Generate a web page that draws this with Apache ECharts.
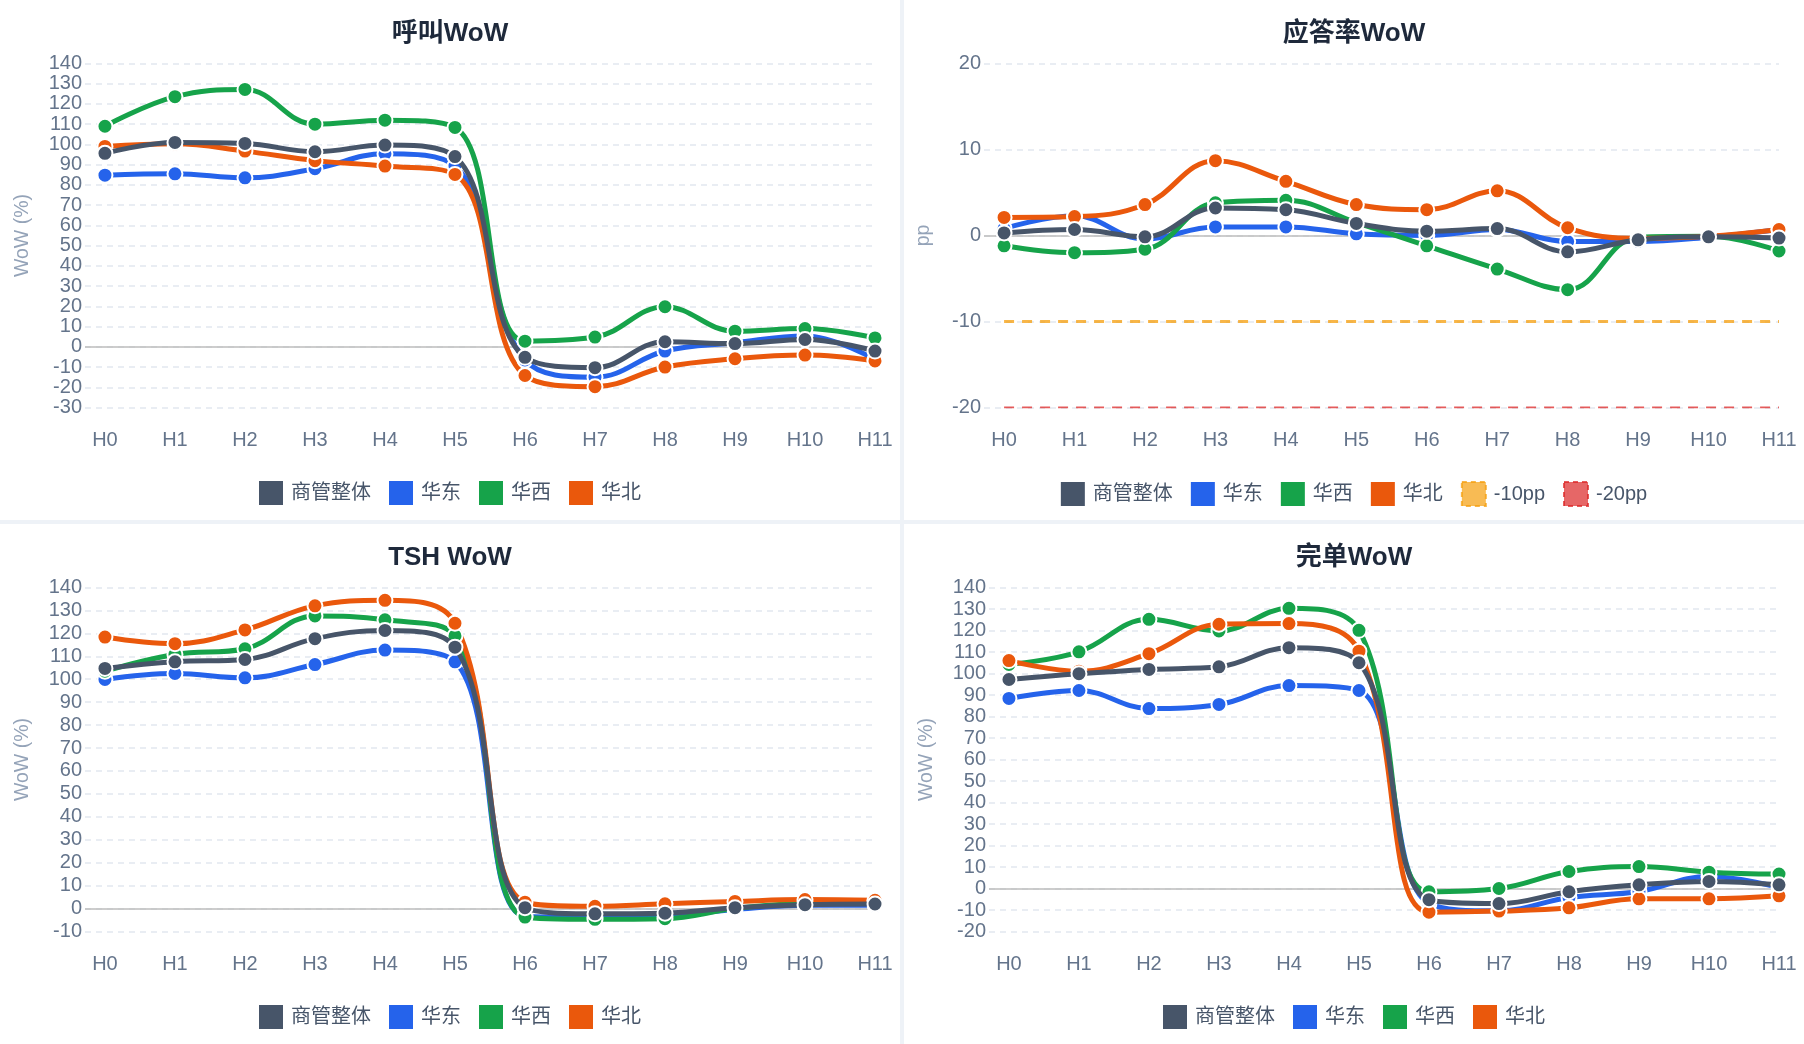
<!DOCTYPE html>
<html>
<head>
<meta charset="utf-8">
<script src="https://cdn.jsdelivr.net/npm/echarts@6/dist/echarts.min.js"></script>
<style>
  html, body { margin: 0; padding: 0; background: #eef2f7; }
  #wrap {
    display: grid;
    grid-template-columns: 900px 900px;
    grid-template-rows: 520px 520px;
    gap: 4px;
    width: 1804px;
    height: 1044px;
  }
  .panel { background: #fff; width: 900px; height: 520px; }
</style>
</head>
<body>
<div id="wrap">
  <div class="panel" id="callChart"></div>
  <div class="panel" id="answerChart"></div>
  <div class="panel" id="tshChart"></div>
  <div class="panel" id="doneChart"></div>
</div>
<script>
// hours on the x axis
const hours = [0, 1, 2, 3, 4, 5, 6, 7, 8, 9, 10, 11];
const seriesNames = ['商管整体', '华东', '华西', '华北'];
const seriesColors = ['#475569', '#2563eb', '#16a34a', '#ea580c'];

// 呼叫WoW (%)
const callOverall = [95.6, 101, 100.5, 96.4, 99.7, 94, -5.2, -10.3, 2.5, 1.6, 3.6, -2.1];
const callEast    = [84.8, 85.5, 83.5, 88, 95.4, 89.3, -6.5, -15, -2.1, 2, 5.3, -6.3];
const callWest    = [109, 123.6, 127.2, 110, 112, 108.4, 2.8, 4.8, 19.8, 7.7, 9, 4.4];
const callNorth   = [99, 100.3, 96.7, 92, 89.3, 85.2, -14.2, -19.7, -10, -5.9, -4.1, -7];

// 应答率WoW (pp)
const ansOverall = [0.3, 0.7, -0.15, 3.2, 3.0, 1.4, 0.5, 0.8, -1.9, -0.5, -0.15, -0.3];
const ansEast    = [0.8, 2.3, -0.4, 1.0, 1.0, 0.2, 0, 0.7, -0.7, -0.7, -0.2, 0.7];
const ansWest    = [-1.2, -2.0, -1.6, 3.8, 4.1, 1.5, -1.2, -3.9, -6.3, -0.2, -0.1, -1.8];
const ansNorth   = [2.1, 2.2, 3.6, 8.7, 6.3, 3.6, 3.0, 5.2, 0.9, -0.35, -0.1, 0.7];
const ansMinus10 = [-10, -10, -10, -10, -10, -10, -10, -10, -10, -10, -10, -10];
const ansMinus20 = [-20, -20, -20, -20, -20, -20, -20, -20, -20, -20, -20, -20];

// TSH WoW (%)
const tshOverall = [104.7, 107.6, 108.6, 117.7, 121.3, 114, 0.4, -2.3, -2, 0.4, 1.7, 2];
const tshEast    = [99.9, 102.5, 100.6, 106.4, 112.7, 107.6, -3.3, -3.7, -3.3, -0.4, 1.4, 1.4];
const tshWest    = [103.5, 110.8, 113.3, 127.6, 125.9, 118.9, -3.7, -4.7, -4.4, 0, 2.4, 3.1];
const tshNorth   = [118.4, 115.5, 121.5, 132, 134.4, 124.4, 2.8, 1, 2.1, 3.1, 3.9, 3.6];

// 完单WoW (%)
const doneOverall = [97.2, 99.9, 101.9, 103.1, 112, 105, -5.2, -7, -1.5, 1.7, 3.3, 1.7];
const doneEast    = [88.4, 92.1, 83.7, 85.6, 94.4, 92.1, -7, -10.4, -4.2, -1.4, 5.6, 0.5];
const doneWest    = [104.2, 110.1, 125.2, 119.8, 130.3, 120.1, -1.5, 0, 7.9, 10.2, 7.6, 6.7];
const doneNorth   = [106, 101.1, 109.2, 122.9, 123.2, 110.4, -11, -10.5, -9, -4.8, -4.8, -3.4];

const FONT = "'Liberation Sans', 'Noto Sans CJK SC', sans-serif";

function pairs(vals) {
    return vals.map((v, i) => [hours[i], v]);
}

function lineSeries(name, color, vals, z) {
    return {
        name: name,
        type: 'line',
        data: pairs(vals),
        smooth: 0.4,
        z: z,
        symbol: 'circle',
        symbolSize: 15,
        lineStyle: { color: color, width: 5 },
        itemStyle: { color: color, borderColor: '#fff', borderWidth: 2 }
    };
}

function buildOption(cfg) {
    const series = cfg.data.map((vals, i) =>
        lineSeries(seriesNames[i], seriesColors[i], vals, i === 0 ? 4 : 3));
    // zero line, kept under the lines
    series[0].markLine = {
        silent: true,
        symbol: 'none',
        z: 1,
        label: { show: false },
        lineStyle: { color: '#bdbdbd', width: 1.5, type: 'solid' },
        emphasis: { disabled: true },
        data: [{ yAxis: 0 }]
    };
    const legendData = seriesNames.map(n => ({ name: n, itemStyle: { borderWidth: 0 } }));
    (cfg.thresholds || []).forEach(t => {
        series.push({
            name: t.name,
            type: 'line',
            data: pairs(t.vals),
            symbol: 'none',
            silent: true,
            z: 2,
            lineStyle: { color: t.color, width: t.width, type: [10, 8] },
            itemStyle: { color: t.fill }
        });
        legendData.push({
            name: t.name,
            itemStyle: { color: t.fill, borderColor: t.color, borderWidth: 2, borderType: [5, 4] }
        });
    });

    return {
        animation: false,
        textStyle: { fontFamily: FONT },
        title: {
            text: cfg.title,
            left: 'center',
            top: 21,
            padding: 0,
            textStyle: { fontSize: 26, fontWeight: 'bold', color: '#1e293b', fontFamily: FONT }
        },
        legend: {
            top: 476,
            left: 'center',
            icon: 'rect',
            itemWidth: 24,
            itemHeight: 24,
            itemGap: 18,
            textStyle: { fontSize: 20, color: '#475569', fontFamily: FONT, padding: [0, 0, 0, 3] },
            data: legendData
        },
        grid: { left: cfg.gridLeft, right: 25, top: 63.5, bottom: 112.5 },
        xAxis: {
            type: 'value',
            min: -0.285,
            max: 11,
            axisLine: { show: false },
            axisTick: { show: false },
            splitLine: { show: false },
            axisLabel: {
                customValues: hours,
                formatter: v => 'H' + v,
                margin: 23,
                fontSize: 20,
                color: '#64748b'
            }
        },
        yAxis: {
            type: 'value',
            min: cfg.yMin,
            max: cfg.yMax,
            interval: 10,
            name: cfg.yName,
            nameLocation: 'middle',
            nameGap: cfg.nameGap,
            nameTextStyle: { fontSize: 19.5, color: '#94a3b8', fontFamily: FONT },
            axisLine: { show: false },
            axisTick: { show: false },
            axisLabel: { margin: 3, fontSize: 20, color: '#64748b' },
            splitLine: { lineStyle: { color: '#e2e8f0', width: 1.5, type: [6, 5] } }
        },
        series: series
    };
}

const charts = [
    {
        el: 'callChart', title: '呼叫WoW', yName: 'WoW (%)', yMin: -30, yMax: 140,
        gridLeft: 85, nameGap: 53,
        data: [callOverall, callEast, callWest, callNorth]
    },
    {
        el: 'answerChart', title: '应答率WoW', yName: 'pp', yMin: -20, yMax: 20,
        gridLeft: 80, nameGap: 51,
        data: [ansOverall, ansEast, ansWest, ansNorth],
        thresholds: [
            { name: '-10pp', vals: ansMinus10, color: 'rgba(245,158,11,0.75)', fill: 'rgba(245,158,11,0.7)', width: 3 },
            { name: '-20pp', vals: ansMinus20, color: 'rgba(220,38,38,0.75)', fill: 'rgba(220,38,38,0.7)', width: 2 }
        ]
    },
    {
        el: 'tshChart', title: 'TSH WoW', yName: 'WoW (%)', yMin: -10, yMax: 140,
        gridLeft: 85, nameGap: 53,
        data: [tshOverall, tshEast, tshWest, tshNorth]
    },
    {
        el: 'doneChart', title: '完单WoW', yName: 'WoW (%)', yMin: -20, yMax: 140,
        gridLeft: 85, nameGap: 53,
        data: [doneOverall, doneEast, doneWest, doneNorth]
    }
];

charts.forEach(cfg => {
    const chart = echarts.init(document.getElementById(cfg.el));
    chart.setOption(buildOption(cfg));
});
</script>
</body>
</html>
